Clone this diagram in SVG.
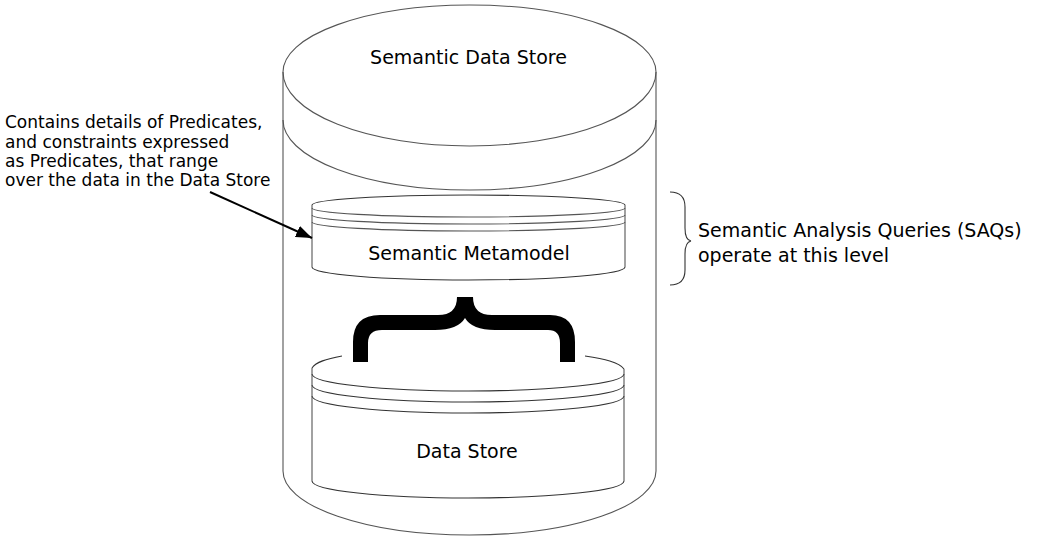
<svg xmlns="http://www.w3.org/2000/svg" width="1049" height="542" viewBox="0 0 1049 542">
<defs>
<style>
.ln{fill:none;stroke:#555;stroke-width:1.1}
.bd{fill:none;stroke:#333;stroke-width:1.1}
.t{font-family:"DejaVu Sans","Verdana",sans-serif;fill:#000}
.lbl{font-size:19px;text-anchor:middle}
.note{font-size:17px}
.saq{font-size:19px}
</style>
<marker id="ah" viewBox="0 0 16 12" refX="16" refY="6" markerWidth="16" markerHeight="12" markerUnits="userSpaceOnUse" orient="auto">
<path d="M0 0 L16 6 L0 12 Z" fill="#000"/>
</marker>
</defs>
<rect width="1049" height="542" fill="#fff"/>
<g id="semantic-data-store">
<path class="ln" d="M283 72 A186.5 67 0 0 1 656 72"/>
<path class="ln" d="M283 72 A186.5 74 0 0 0 656 72"/>
<path class="ln" d="M283 120 A186.5 70 0 0 0 656 120"/>
<path class="ln" d="M283 72 L283 471 M656 72 L656 471"/>
<path class="ln" d="M283 471 A186.5 64 0 0 0 656 471"/>
<text class="t lbl" x="468.5" y="64">Semantic Data Store</text>
</g>
<g id="semantic-metamodel">
<path class="bd" d="M312 205 A156.5 10 0 0 1 625 205"/>
<path class="ln" d="M312 208 A156.5 9 0 0 0 625 208 M312 215 A156.5 9 0 0 0 625 215 M312 222 A156.5 9 0 0 0 625 222"/>
<path class="ln" d="M312 205 L312 267 M625 205 L625 267"/>
<path class="bd" d="M312 267 A156.5 13 0 0 0 625 267"/>
<text class="t lbl" x="469" y="260">Semantic Metamodel</text>
</g>
<g id="data-store">
<path class="bd" d="M312 368 C316 362 326 359 342 356 M585 356 C604 359 619 362 624 369"/>
<path class="bd" d="M312 374 A156 17 0 0 0 624 374 M312 385 A156 17 0 0 0 624 385 M312 396 A156 17 0 0 0 624 396"/>
<path class="ln" d="M312 368 L312 481 M624 369 L624 481"/>
<path class="bd" d="M312 481 A156 17 0 0 0 624 481"/>
<text class="t lbl" x="467" y="458">Data Store</text>
</g>
<g id="brace">
<path fill="#000" d="M353 362 L353 342 Q353 315 380 315 L438 315 Q457 315 457 297 L473 297 Q473 315 492 315 L550 315 Q575 315 575 342 L575 362 L560 362 L560 343 Q560 330 548 330 L495 330 Q472 330 465 318 Q458 330 435 330 L382 330 Q368 330 368 343 L368 362 Z"/>
</g>
<g id="saq-note">
<path class="bd" d="M670 192 Q685 192 685 207 L685 228 Q685 240 691 241 Q685 242 685 254 L685 270 Q685 285 670 285"/>
<text class="t saq" x="698" y="237">Semantic Analysis Queries (SAQs)</text>
<text class="t saq" x="698" y="262">operate at this level</text>
</g>
<g id="predicate-note">
<text class="t note" x="5" y="128">Contains details of Predicates,</text>
<text class="t note" x="5" y="148">and constraints expressed</text>
<text class="t note" x="5" y="167">as Predicates, that range</text>
<text class="t note" x="5" y="186">over the data in the Data Store</text>
</g>
<g id="connectors">
<path d="M210 192 L312 238" stroke="#000" stroke-width="2" fill="none" marker-end="url(#ah)"/>
</g>
</svg>
